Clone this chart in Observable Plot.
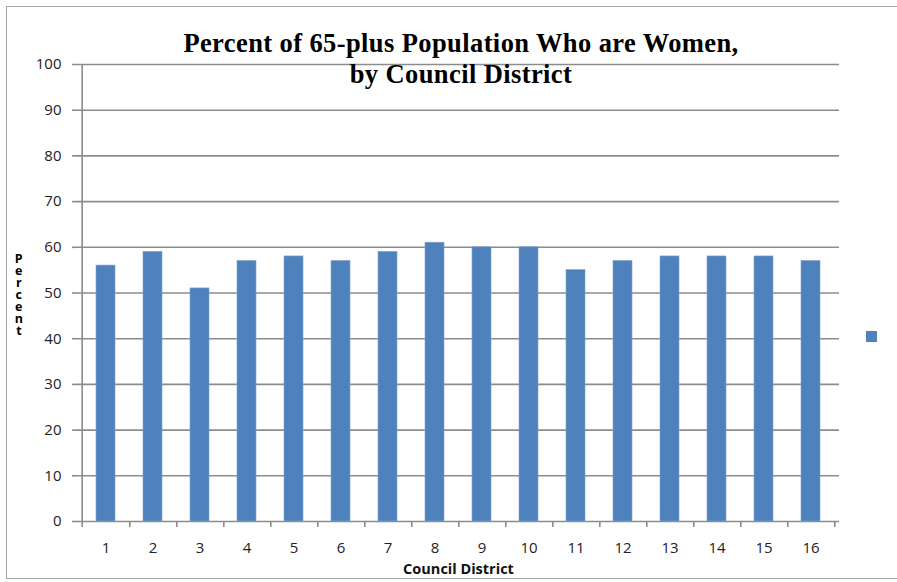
<!DOCTYPE html>
<html>
<head>
<meta charset="utf-8">
<script src="https://cdn.jsdelivr.net/npm/d3@7"></script>
<script src="https://cdn.jsdelivr.net/npm/@observablehq/plot@0.6"></script>
<style>
  html, body { margin: 0; padding: 0; background: #fff; }
  #wrap { position: relative; width: 897px; height: 582px; overflow: hidden; }
  #frame { position: absolute; left: 6px; top: 6px; width: 900px; height: 573px; border: 1.5px solid #a6a6a6; box-sizing: border-box; }
  #title { position: absolute; left: 0; width: 922px; top: 28px; text-align: center; font-family: "Liberation Serif", "Times New Roman", serif; font-weight: bold; font-size: 26.5px; letter-spacing: 0.4px; line-height: 31px; color: #000; }
  #ylab { position: absolute; left: 11px; top: 250px; width: 14px; writing-mode: vertical-lr; text-orientation: upright; font-family: "Open Sans", sans-serif; font-weight: bold; font-size: 12.5px; letter-spacing: -5px; line-height: 14px; color: #000; }
  #legend { position: absolute; left: 866px; top: 331px; width: 11px; height: 11px; background: #4F81BD; }
  #chart { position: absolute; left: 0; top: 0; }
</style>
</head>
<body>
<div id="wrap">
  <div id="chart"></div>
  <div id="frame"></div>
  <div id="title"></div>
  <div id="ylab"></div>
  <div id="legend"></div>
</div>
<script>
const titleLines = ["Percent of 65-plus Population Who are Women,", "by Council District"];
const yLabel = "Percent";
const xLabel = "Council District";
const districts = ["1","2","3","4","5","6","7","8","9","10","11","12","13","14","15","16"];
const percents = [56, 59, 51, 57, 58, 57, 59, 61, 60, 60, 55, 57, 58, 58, 58, 57];
const yTicks = [0, 10, 20, 30, 40, 50, 60, 70, 80, 90, 100];
const barColor = "#4F81BD";
const gridColor = "#8c8c8c";

const data = districts.map((d, i) => ({district: d, pct: percents[i]}));

document.getElementById("title").innerHTML = titleLines.join("<br>");
document.getElementById("ylab").textContent = yLabel;

const W = 897, H = 582;
const mL = 77, mR = 58, mT = 64, mB = 61;
const step = (W - mL - mR) / districts.length;

const chart = Plot.plot({
  width: W,
  height: H,
  marginLeft: mL,
  marginRight: mR,
  marginTop: mT,
  marginBottom: mB,
  style: {background: "transparent", fontFamily: "'Open Sans', sans-serif", fontSize: "15px", color: "#222"},
  x: {domain: districts, paddingInner: 0.59, paddingOuter: 0.295, label: null},
  y: {domain: [0, 100], label: null},
  marks: [
    Plot.ruleY(yTicks, {stroke: gridColor, strokeWidth: 1.6}),
    // left axis line
    Plot.ruleX([districts[0]], {x: d => d, dx: -step / 2, y1: -1.3, y2: 100, stroke: gridColor, strokeWidth: 1.6, clip: false}),
    // x-axis boundary ticks
    Plot.ruleX(districts, {x: d => d, dx: step / 2, y1: -1.3, y2: 0, stroke: gridColor, strokeWidth: 1.6, clip: false}),
    Plot.barY(data, {x: "district", y: "pct", fill: barColor, stroke: "#7ea1cf", strokeWidth: 0.6}),
    Plot.axisY({ticks: yTicks, tickSize: 5, tickPadding: 11, stroke: gridColor, strokeWidth: 1.6, fill: "#222", fontSize: "15px", label: null}),
    Plot.axisX({tickSize: 0, tickPadding: 21, fill: "#222", fontSize: "15px", label: null}),
    Plot.text([xLabel], {frameAnchor: "bottom", dy: 52, fontWeight: "bold", fontSize: "14.5px", fill: "#111"})
  ]
});
document.getElementById("chart").appendChild(chart);
</script>
</body>
</html>
